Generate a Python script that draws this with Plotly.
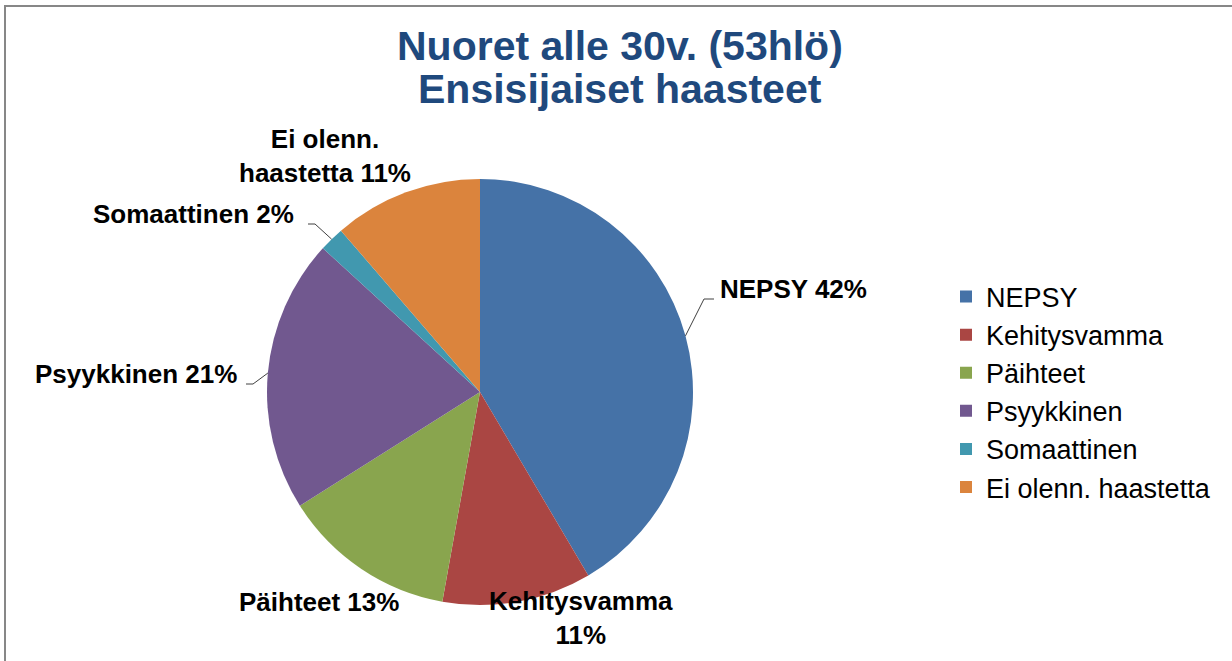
import math
import plotly.graph_objects as go

# ---- data ----
categories = ["NEPSY", "Kehitysvamma", "Päihteet", "Psyykkinen", "Somaattinen", "Ei olenn. haastetta"]
counts = [22, 6, 7, 11, 1, 6]   # 53 henkilöä
colors = ["#4572A7", "#AA4643", "#89A54E", "#71588F", "#4198AF", "#DB843D"]
label_texts = ["NEPSY", "Kehitysvamma", "Päihteet", "Psyykkinen", "Somaattinen", "Ei olenn.<br>haastetta"]
title_lines = ["Nuoret alle 30v. (53hlö)", "Ensisijaiset haasteet"]

# ---- layout geometry (pixels) ----
W, H = 1232, 661
CX, CY, R = 480, 392, 213
# label centres (px), leader flag, elbow x
label_pos = [(794, 289, True, 704), (581, 618, False, None), (319, 602, False, None),
             (136, 374, True, 253), (193, 214, True, 315), (325, 156, False, None)]
title_pos = [(620, 46), (620, 89)]

def px(x):
    return x / W

def py(y):
    return 1 - y / H

fig = go.Figure()
fig.add_trace(go.Pie(
    labels=categories, values=counts, sort=False, direction="clockwise", rotation=0,
    marker=dict(colors=colors, line=dict(width=0)),
    textinfo="none", hole=0,
    domain=dict(x=[px(CX - R), px(CX + R)], y=[py(CY + R), py(CY - R)]),
))

total = sum(counts)
annotations = []
shapes = []
cum = 0
for i, c in enumerate(counts):
    mid = (cum + c / 2) / total * 2 * math.pi
    cum += c
    pct = round(100 * c / total)
    lx, ly, leader, elbow = label_pos[i]
    annotations.append(dict(
        x=px(lx), y=py(ly), xref="paper", yref="paper", showarrow=False,
        text=f"{label_texts[i]} {pct}%" if i != 1 else f"{label_texts[i]}<br>{pct}%",
        font=dict(family="Liberation Sans, Arial", size=26, color="#000000", weight="bold"),
        xanchor="center", yanchor="middle", align="center",
    ))
    if leader:
        ex = CX + R * math.sin(mid)
        ey = CY - R * math.cos(mid)
        ty = ly + 10
        if lx > CX:
            path = f"M{px(ex)},{py(ey)} L{px(elbow)},{py(ty)} L{px(elbow + 10)},{py(ty)}"
        else:
            path = f"M{px(ex)},{py(ey)} L{px(elbow)},{py(ty)} L{px(elbow - 7)},{py(ty)}"
        shapes.append(dict(type="path", xref="paper", yref="paper", path=path,
                           line=dict(color="#404040", width=1)))

for (tx, ty), line in zip(title_pos, title_lines):
    annotations.append(dict(
        x=px(tx), y=py(ty), xref="paper", yref="paper", showarrow=False, text=line,
        font=dict(family="Liberation Sans, Arial", size=41, color="#1F497D", weight="bold"),
        xanchor="center", yanchor="middle",
    ))

# chart frame (top and left edges visible)
shapes.append(dict(type="rect", xref="paper", yref="paper",
                   x0=px(5), y0=py(6), x1=px(1250), y1=py(690),
                   line=dict(color="#878787", width=2)))

fig.update_layout(
    width=W, height=H,
    margin=dict(l=0, r=0, t=0, b=0),
    paper_bgcolor="white", plot_bgcolor="white",
    legend=dict(x=px(946), y=py(392), xanchor="left", yanchor="middle",
                font=dict(family="Liberation Sans, Arial", size=27, color="#000000"),
                traceorder="normal"),
    annotations=annotations,
    shapes=shapes,
)

fig.write_html("out.html", config={"displayModeBar": False},
               post_script="document.body.style.margin='0';")
